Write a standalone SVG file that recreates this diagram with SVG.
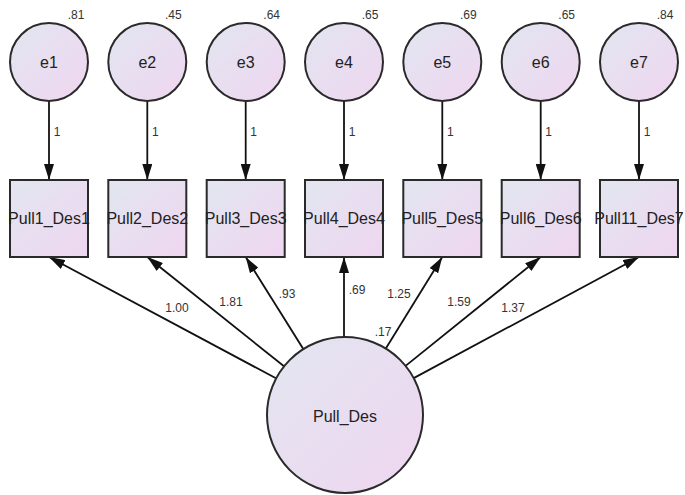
<svg xmlns="http://www.w3.org/2000/svg" width="685" height="495" viewBox="0 0 685 495">
<defs>
<linearGradient id="g" x1="0" y1="0" x2="1" y2="1">
<stop offset="0" stop-color="#e2e6f0"/>
<stop offset="1" stop-color="#efd6f0"/>
</linearGradient>
<marker id="ah" viewBox="0 0 16 10" refX="16" refY="5" markerWidth="16" markerHeight="10" markerUnits="userSpaceOnUse" orient="auto">
<path d="M0,0 L16,5 L0,10 z" fill="#111"/>
</marker>
</defs>
<style>
.n{fill:url(#g);stroke:#2a2a2a;stroke-width:2}
.t{font-family:"Liberation Sans",Arial,sans-serif;font-size:16px;fill:#222;text-anchor:middle;dominant-baseline:central}
.l{font-family:"Liberation Sans",Arial,sans-serif;font-size:12px;fill:#333;text-anchor:middle;dominant-baseline:central}
.c{stroke:#111;stroke-width:1.8;fill:none;marker-end:url(#ah)}
</style>
<rect width="685" height="495" fill="#fff"/>
<g id="connectors">
<line class="c" x1="49" y1="101" x2="49" y2="180"/>
<line class="c" x1="147.3" y1="101" x2="147.3" y2="180"/>
<line class="c" x1="245.7" y1="101" x2="245.7" y2="180"/>
<line class="c" x1="344" y1="101" x2="344" y2="180"/>
<line class="c" x1="442.3" y1="101" x2="442.3" y2="180"/>
<line class="c" x1="540.7" y1="101" x2="540.7" y2="180"/>
<line class="c" x1="639" y1="101" x2="639" y2="180"/>
<line class="c" x1="276" y1="378.3" x2="49" y2="257"/>
<line class="c" x1="284" y1="366.3" x2="147.3" y2="257"/>
<line class="c" x1="303.3" y1="349.1" x2="245.7" y2="257"/>
<line class="c" x1="344" y1="337" x2="344" y2="257"/>
<line class="c" x1="385.8" y1="348.5" x2="442.3" y2="257"/>
<line class="c" x1="405.6" y1="365.9" x2="540.7" y2="257"/>
<line class="c" x1="413.7" y1="378.1" x2="639" y2="257"/>
<text class="l" x="57" y="132">1</text>
<text class="l" x="155.3" y="132">1</text>
<text class="l" x="253.7" y="132">1</text>
<text class="l" x="352" y="132">1</text>
<text class="l" x="450.3" y="132">1</text>
<text class="l" x="548.7" y="132">1</text>
<text class="l" x="647" y="132">1</text>
<text class="l" x="177" y="308">1.00</text>
<text class="l" x="231" y="302">1.81</text>
<text class="l" x="287" y="294">.93</text>
<text class="l" x="357" y="290">.69</text>
<text class="l" x="399" y="294">1.25</text>
<text class="l" x="459" y="302">1.59</text>
<text class="l" x="513" y="308">1.37</text>
<text class="l" x="383" y="332">.17</text>
</g>
<g id="e1"><circle class="n" cx="49" cy="62" r="39"/><text class="t" x="49" y="62">e1</text><text class="l" x="76" y="15">.81</text></g>
<g id="e2"><circle class="n" cx="147.3" cy="62" r="39"/><text class="t" x="147.3" y="62">e2</text><text class="l" x="173.3" y="15">.45</text></g>
<g id="e3"><circle class="n" cx="245.7" cy="62" r="39"/><text class="t" x="245.7" y="62">e3</text><text class="l" x="271.7" y="15">.64</text></g>
<g id="e4"><circle class="n" cx="344" cy="62" r="39"/><text class="t" x="344" y="62">e4</text><text class="l" x="370" y="15">.65</text></g>
<g id="e5"><circle class="n" cx="442.3" cy="62" r="39"/><text class="t" x="442.3" y="62">e5</text><text class="l" x="468.3" y="15">.69</text></g>
<g id="e6"><circle class="n" cx="540.7" cy="62" r="39"/><text class="t" x="540.7" y="62">e6</text><text class="l" x="566.7" y="15">.65</text></g>
<g id="e7"><circle class="n" cx="639" cy="62" r="39"/><text class="t" x="639" y="62">e7</text><text class="l" x="665" y="15">.84</text></g>
<g id="Pull1_Des1"><rect class="n" x="10" y="180" width="78" height="77"/><text class="t" x="49" y="218.5">Pull1_Des1</text></g>
<g id="Pull2_Des2"><rect class="n" x="108.3" y="180" width="78" height="77"/><text class="t" x="147.3" y="218.5">Pull2_Des2</text></g>
<g id="Pull3_Des3"><rect class="n" x="206.7" y="180" width="78" height="77"/><text class="t" x="245.7" y="218.5">Pull3_Des3</text></g>
<g id="Pull4_Des4"><rect class="n" x="305" y="180" width="78" height="77"/><text class="t" x="344" y="218.5">Pull4_Des4</text></g>
<g id="Pull5_Des5"><rect class="n" x="403.3" y="180" width="78" height="77"/><text class="t" x="442.3" y="218.5">Pull5_Des5</text></g>
<g id="Pull6_Des6"><rect class="n" x="501.7" y="180" width="78" height="77"/><text class="t" x="540.7" y="218.5">Pull6_Des6</text></g>
<g id="Pull11_Des7"><rect class="n" x="600" y="180" width="78" height="77"/><text class="t" x="639" y="218.5">Pull11_Des7</text></g>
<g id="Pull_Des"><circle class="n" cx="345" cy="415" r="78"/><text class="t" x="345" y="416">Pull_Des</text></g>
</svg>
